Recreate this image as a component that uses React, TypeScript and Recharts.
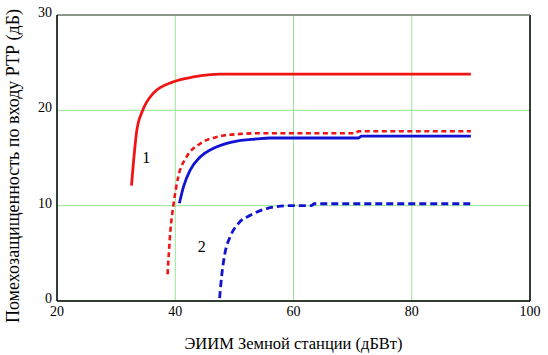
import { LineChart, Line, XAxis, YAxis, CartesianGrid, ReferenceLine, ReferenceDot, Label } from 'recharts';

const xTicks = [20, 40, 60, 80, 100];
const yTicks = [0, 10, 20, 30];

// curve 1, upper (solid red)
const redSolidX = [32.6, 33.5, 34.5, 36.3, 39.7, 43.1, 47.6, 60, 75, 90];
const redSolidY = [12.1, 17.9, 20.0, 21.8, 23.0, 23.5, 23.8, 23.8, 23.8, 23.8];

// dashed red
const redDashX = [38.7, 39.2, 39.7, 40.5, 41.9, 44.2, 47.0, 50.4, 55, 70.5, 71, 90];
const redDashY = [2.8, 7.5, 10.1, 13.0, 15.1, 16.5, 17.2, 17.5, 17.6, 17.6, 17.8, 17.8];

// solid blue
const blueSolidX = [40.7, 41.4, 42.5, 44.2, 46.4, 49.8, 53.8, 56.0, 71.0, 71.5, 90];
const blueSolidY = [10.25, 12.0, 13.7, 15.1, 16.0, 16.7, 17.0, 17.1, 17.1, 17.3, 17.3];

// curve 2 (dashed blue)
const blueDashX = [47.5, 47.9, 48.4, 49.3, 50.7, 52.7, 55.5, 59.4, 63, 63.5, 90];
const blueDashY = [0.3, 2.9, 5.0, 6.75, 8.15, 9.0, 9.7, 10.0, 10.0, 10.2, 10.2];

const curveLabels = [
  { text: '1', x: 35.1, y: 15.1 },
  { text: '2', x: 44.5, y: 5.7 },
];

const serif = "'Liberation Serif', Tinos, 'Times New Roman', 'DejaVu Serif', serif";

const toPoints = (xs: number[], ys: number[]) => xs.map((x, i) => ({ x, y: ys[i] }));

const YTitle = (props: any) => {
  const vb = props.viewBox;
  const cx = 13;
  const cy = vb.y + vb.height / 2 + 8;
  return (
    <text
      x={cx}
      y={cy}
      transform={`rotate(-90, ${cx}, ${cy})`}
      textAnchor="middle"
      dominantBaseline="central"
      style={{ fontFamily: serif, fontSize: 18 }}
      fill="#000"
    >
      Помехозащищенность по входу РТР (дБ)
    </text>
  );
};

const App = () => {
  return (
    <div style={{ position: 'absolute', left: 0, top: 0, background: '#fff', fontFamily: serif }}>
      <LineChart
        width={548}
        height={355}
        margin={{ top: 15, right: 18, bottom: 4, left: 0 }}
        style={{ fontFamily: serif }}
      >
        <CartesianGrid stroke="#96e496" strokeWidth={1} />
        <XAxis
          type="number"
          dataKey="x"
          domain={[20, 100]}
          ticks={xTicks}
          allowDataOverflow
          height={50}
          tickLine={false}
          tickSize={3}
          tickMargin={2}
          axisLine={{ stroke: '#000', strokeWidth: 1.5 }}
          tick={{ fill: '#000', fontSize: 14, style: { fontFamily: serif } }}
        >
          <Label
            value="ЭИИМ Земной станции (дБВт)"
            position="insideBottom"
            offset={2}
            style={{ fontFamily: serif, fontSize: 16.5, fill: '#000' }}
          />
        </XAxis>
        <YAxis
          type="number"
          dataKey="y"
          domain={[0, 30]}
          ticks={yTicks}
          width={57}
          tickLine={false}
          tickSize={3}
          tickMargin={2}
          axisLine={{ stroke: '#000', strokeWidth: 1.5 }}
          tick={{ fill: '#000', fontSize: 14, dy: -3, style: { fontFamily: serif } }}
        >
          <Label content={YTitle} />
        </YAxis>
        <ReferenceLine x={100} stroke="#000" strokeWidth={1.5} />
        <ReferenceLine y={30} stroke="#777" strokeWidth={1.5} />
        <Line
          data={toPoints(redSolidX, redSolidY)}
          dataKey="y"
          type="monotone"
          stroke="#f01414"
          strokeWidth={2.8}
          dot={false}
          isAnimationActive={false}
        />
        <Line
          data={toPoints(redDashX, redDashY)}
          dataKey="y"
          type="monotone"
          stroke="#f01414"
          strokeWidth={2.6}
          strokeDasharray="5 3.5"
          dot={false}
          isAnimationActive={false}
        />
        <Line
          data={toPoints(blueSolidX, blueSolidY)}
          dataKey="y"
          type="monotone"
          stroke="#1212d2"
          strokeWidth={2.8}
          dot={false}
          isAnimationActive={false}
        />
        <Line
          data={toPoints(blueDashX, blueDashY)}
          dataKey="y"
          type="monotone"
          stroke="#1212d2"
          strokeWidth={2.8}
          strokeDasharray="7 4"
          dot={false}
          isAnimationActive={false}
        />
        {curveLabels.map((l) => (
          <ReferenceDot
            key={l.text}
            x={l.x}
            y={l.y}
            r={0}
            stroke="none"
            label={{ value: l.text, position: 'center', style: { fontFamily: serif, fontSize: 16, fill: '#000' } }}
          />
        ))}
      </LineChart>
    </div>
  );
};

export default App;
